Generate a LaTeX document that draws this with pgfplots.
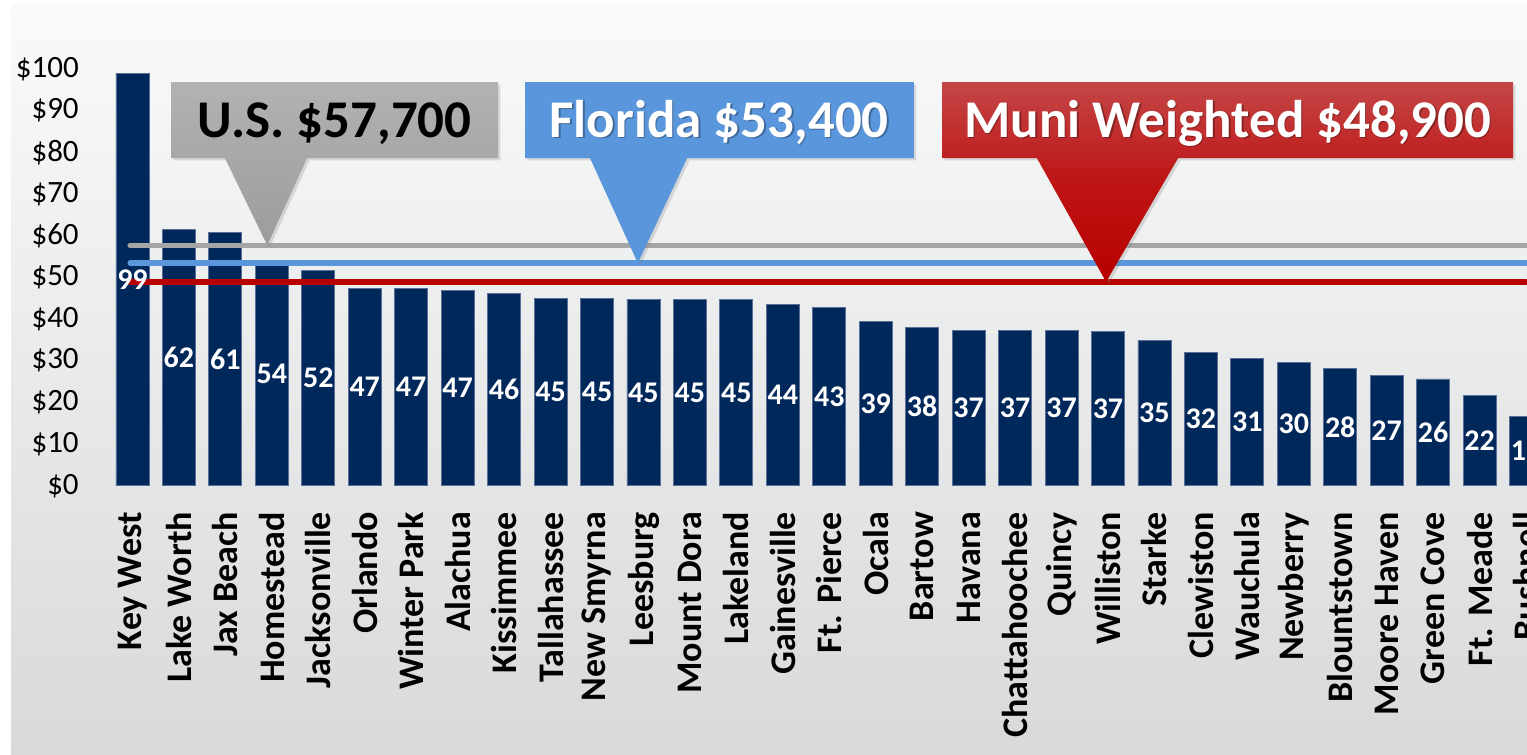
\documentclass[border=0pt]{standalone}
\usepackage{fontspec}
\setmainfont{Carlito}
\usepackage{pgfplots}
\usepackage{pgfplotstable}
\pgfplotsset{compat=1.18}
\usetikzlibrary{shadows}

\definecolor{navy}{RGB}{0,40,90}
\definecolor{barline}{RGB}{90,110,150}
\definecolor{usgray}{RGB}{165,165,165}
\definecolor{usgraytop}{RGB}{178,178,178}
\definecolor{usgraybot}{RGB}{156,156,156}
\definecolor{flblue}{RGB}{90,150,220}
\definecolor{munired}{RGB}{184,0,0}
\definecolor{muniredtop}{RGB}{196,70,70}
\definecolor{bgtop}{RGB}{249,250,250}
\definecolor{bgbot}{RGB}{216,217,218}

% bar height (thousand $) and printed label
\pgfplotstableread{
i v lab
0 99.0 99
1 61.5 62
2 60.8 61
3 53.6 54
4 51.6 52
5 47.3 47
6 47.3 47
7 46.8 47
8 46.1 46
9 45.0 45
10 45.0 45
11 44.7 45
12 44.7 45
13 44.7 45
14 43.5 44
15 42.8 43
16 39.3 39
17 37.9 38
18 37.2 37
19 37.2 37
20 37.2 37
21 37.0 37
22 34.9 35
23 32.0 32
24 30.5 31
25 29.6 30
26 28.2 28
27 26.5 27
28 25.6 26
29 21.7 22
30 16.7 17
}\incomes

\begin{document}
\begin{tikzpicture}
\shade[top color=bgtop, bottom color=bgbot] (5.5pt,0pt) rectangle (763.5pt,375.5pt);
\begin{axis}[
  scale only axis, width=715.35pt, height=208.4pt,
  at={(56.95pt,134.65pt)}, anchor=south west,
  xmin=-0.4, xmax=30.4, ymin=0, ymax=100,
  axis line style={draw=none}, major tick length=0pt,
  ytick={0,10,...,100},
  yticklabels={\$0,\$10,\$20,\$30,\$40,\$50,\$60,\$70,\$80,\$90,\$100},
  yticklabel style={font=\fontsize{15.5}{18}\selectfont, inner sep=0pt},
  yticklabel shift=17.4pt,
  xtick={0,...,30},
  xticklabels={Key West,Lake Worth,Jax Beach,Homestead,Jacksonville,Orlando,Winter Park,Alachua,Kissimmee,Tallahassee,New Smyrna,Leesburg,Mount Dora,Lakeland,Gainesville,Ft. Pierce,Ocala,Bartow,Havana,Chattahoochee,Quincy,Williston,Starke,Clewiston,Wauchula,Newberry,Blountstown,Moore Haven,Green Cove,Ft. Meade,Bushnell},
  xticklabel style={rotate=90, anchor=east, inner sep=0pt, font=\bfseries\fontsize{18}{20}\selectfont},
  xticklabel shift=13pt,
  clip=false,
]
\addplot[ybar, bar width=16.5pt, bar shift=0pt, fill=navy, draw=barline, line width=0.4pt]
  table[x=i, y=v] {\incomes};

% reference lines: U.S., Florida, muni weighted
\addplot[usgray, line width=2.7pt, line cap=round] coordinates {(-0.05,57.7) (30.0,57.7)};
\addplot[flblue, line width=2.7pt, line cap=round] coordinates {(-0.05,53.4) (30.0,53.4)};
\addplot[munired, line width=2.7pt, line cap=round] coordinates {(-0.05,48.9) (30.0,48.9)};

% value labels at half bar height
\addplot[draw=none, nodes near coords, nodes near coords align=center,
  point meta=explicit symbolic,
  every node near coord/.append style={anchor=center, text=white, inner sep=0pt,
    font=\bfseries\fontsize{15}{16}\selectfont}]
  table[x=i, y expr=\thisrow{v}/2, meta=lab] {\incomes};

% callouts
\shade[top color=usgraytop, bottom color=usgraybot,
  drop shadow={shadow xshift=1.2pt, shadow yshift=-1.2pt, opacity=0.25}]
  (axis cs:0.83,96.8) -- (axis cs:7.87,96.8) -- (axis cs:7.87,78.6) -- (axis cs:3.76,78.6)
  -- (axis cs:2.90,57.7) -- (axis cs:1.99,78.6) -- (axis cs:0.83,78.6) -- cycle;
\node[anchor=base, font=\bfseries\fontsize{26.5}{30}\selectfont, text=black]
  at (axis cs:4.35,83.6) {U.S. \$57,700};

\fill[flblue, drop shadow={shadow xshift=1.2pt, shadow yshift=-1.2pt, opacity=0.25}]
  (axis cs:8.45,96.8) -- (axis cs:16.82,96.8) -- (axis cs:16.82,78.6) -- (axis cs:11.94,78.6)
  -- (axis cs:10.88,53.4) -- (axis cs:9.85,78.6) -- (axis cs:8.45,78.6) -- cycle;
\node[anchor=base, font=\bfseries\fontsize{26.5}{30}\selectfont, text=black, opacity=0.3]
  at ([shift={(0.7pt,-0.7pt)}]axis cs:12.63,83.6) {Florida \$53,400};
\node[anchor=base, font=\bfseries\fontsize{26.5}{30}\selectfont, text=white]
  at (axis cs:12.63,83.6) {Florida \$53,400};

\shade[top color=muniredtop, bottom color=munired, middle color=munired!92!white,
  drop shadow={shadow xshift=1.2pt, shadow yshift=-1.2pt, opacity=0.25}]
  (axis cs:17.43,96.8) -- (axis cs:29.72,96.8) -- (axis cs:29.72,78.6) -- (axis cs:22.51,78.6)
  -- (axis cs:20.96,48.9) -- (axis cs:19.47,78.6) -- (axis cs:17.43,78.6) -- cycle;
\node[anchor=base, font=\bfseries\fontsize{26.5}{30}\selectfont, text=black, opacity=0.3]
  at ([shift={(0.7pt,-0.7pt)}]axis cs:23.58,83.6) {Muni Weighted \$48,900};
\node[anchor=base, font=\bfseries\fontsize{26.5}{30}\selectfont, text=white]
  at (axis cs:23.58,83.6) {Muni Weighted \$48,900};
\end{axis}
\pgfresetboundingbox
\useasboundingbox (0pt,0pt) rectangle (763.5pt,377.5pt);
\end{tikzpicture}
\end{document}
